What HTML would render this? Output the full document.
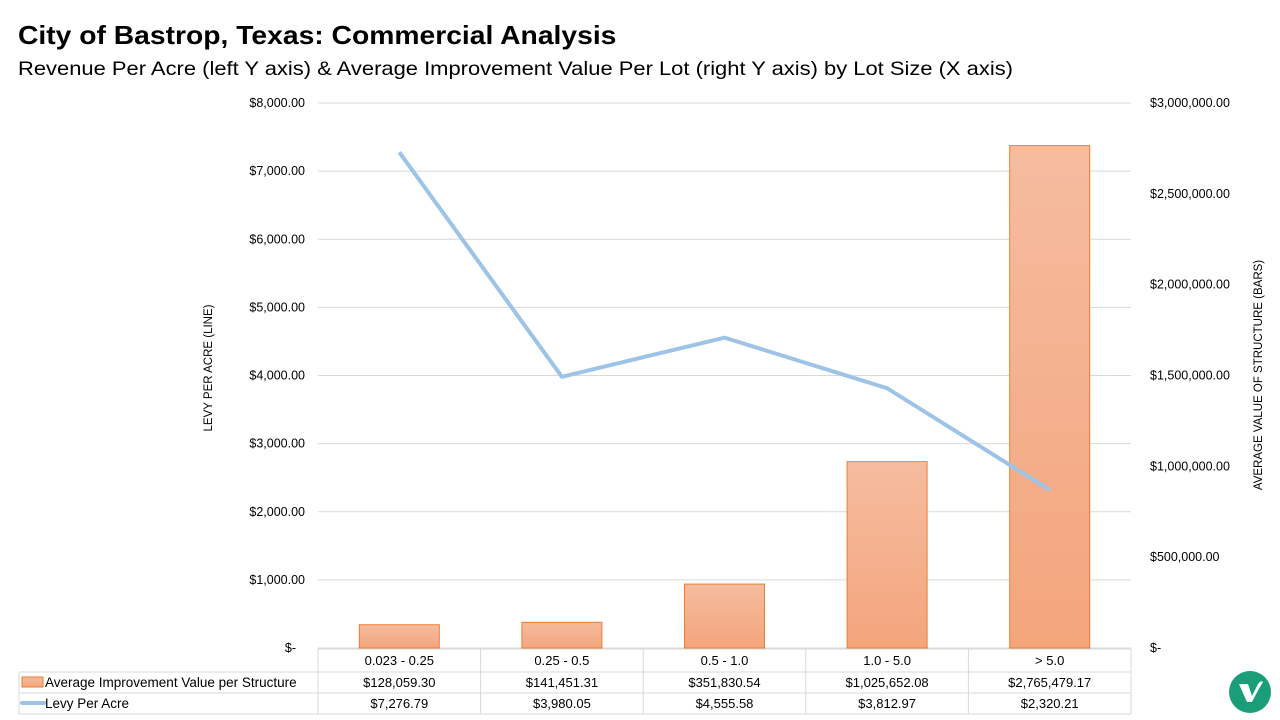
<!DOCTYPE html>
<html><head><meta charset="utf-8"><style>
body{margin:0;background:#fff;font-family:"Liberation Sans",sans-serif;}
#wrap{position:relative;width:1280px;height:720px;overflow:hidden;}
#title{position:absolute;left:18px;top:20px;font-size:26px;font-weight:bold;color:#000;transform:scaleX(1.087);transform-origin:left;white-space:nowrap;}
#sub{position:absolute;left:18px;top:58px;font-size:19.5px;color:#000;transform:scaleX(1.125);transform-origin:left;white-space:nowrap;}
svg text{font-family:"Liberation Sans",sans-serif;}
</style></head><body>
<div id="wrap">
<div id="title">City of Bastrop, Texas: Commercial Analysis</div>
<div id="sub">Revenue Per Acre (left Y axis) &amp; Average Improvement Value Per Lot (right Y axis) by Lot Size (X axis)</div>
<svg id="c" width="1280" height="720" style="position:absolute;left:0;top:0">
<defs><linearGradient id="bg" x1="0" y1="0" x2="0" y2="1"><stop offset="0" stop-color="#f5bc9f"/><stop offset="1" stop-color="#f4a57c"/></linearGradient></defs>
</svg>
<svg width="44" height="44" style="position:absolute;left:1228px;top:670px">
<circle cx="22" cy="22" r="21" fill="#1a9e7a"/>
<path d="M11 14 L20 14 L24 26 L30 14 Q33 10 35 12 Q30 20 24 32 L19 32 Z" fill="#fff"/>
</svg>
</div>
<script>
const categories=["0.023 - 0.25","0.25 - 0.5","0.5 - 1.0","1.0 - 5.0","> 5.0"];
const barValues=[128059.30,141451.31,351830.54,1025652.08,2765479.17];
const lineValues=[7276.79,3980.05,4555.58,3812.97,2320.21];
const barLabels=["$128,059.30","$141,451.31","$351,830.54","$1,025,652.08","$2,765,479.17"];
const lineLabels=["$7,276.79","$3,980.05","$4,555.58","$3,812.97","$2,320.21"];
const leftTicks=[0,1000,2000,3000,4000,5000,6000,7000,8000];
const rightTicks=[0,500000,1000000,1500000,2000000,2500000,3000000];
const NS="http://www.w3.org/2000/svg";
const svg=document.getElementById('c');
const X0=318,X1=1131,Y0=648,Y1=103;
const bw=(X1-X0)/categories.length;
const yL=v=>Y0-(v/8000)*(Y0-Y1);
const yR=v=>Y0-(v/3000000)*(Y0-Y1);
const xC=i=>X0+bw*(i+0.5);
function mk(t,a,txt){const e=document.createElementNS(NS,t);for(const k in a)e.setAttribute(k,a[k]);if(txt!=null)e.textContent=txt;svg.appendChild(e);return e;}
const fmtL=v=>v===0?"$-":"$"+v.toLocaleString("en-US",{minimumFractionDigits:2});
const fmtR=v=>v===0?"$-":"$"+v.toLocaleString("en-US",{minimumFractionDigits:2});
leftTicks.forEach(v=>{
 const g=mk('line',{x1:X0,x2:X1,y1:yL(v),y2:yL(v),stroke:'#d9d9d9','stroke-width':1});
 
 const t=mk('text',{x:v===0?296:305,y:yL(v)+4,'text-anchor':'end','font-size':12.5,fill:'#000'},fmtL(v));
 
});
rightTicks.forEach(v=>{
 const t=mk('text',{x:1150,y:yR(v)+4,'font-size':12.5,fill:'#000'},fmtR(v));
 
});
let t=mk('text',{x:0,y:0,'font-size':11.5,'text-anchor':'middle',transform:'translate(212,368) rotate(-90)'},'LEVY PER ACRE (LINE)');

t=mk('text',{x:0,y:0,'font-size':11.5,'text-anchor':'middle',transform:'translate(1262,375) rotate(-90)'},'AVERAGE VALUE OF STRUCTURE (BARS)');

barValues.forEach((v,i)=>{
 const r=mk('rect',{x:xC(i)-40,y:yR(v),width:80,height:Y0-yR(v),fill:'url(#bg)',stroke:'#ed7d31','stroke-width':1});
 
});
const p=mk('polyline',{points:lineValues.map((v,i)=>xC(i)+','+yL(v)).join(' '),fill:'none',stroke:'#9dc3e6','stroke-width':4,'stroke-linejoin':'round'});

const TL=19,R0=649,R1=672,R2=693,R3=714,tc='#d9d9d9';
[[X0,R0,X1,R0],[TL,R1,X1,R1],[TL,R2,X1,R2],[TL,R3,X1,R3],[TL,R1,TL,R3]].forEach(a=>{
 const l=mk('line',{x1:a[0],y1:a[1],x2:a[2],y2:a[3],stroke:tc});
 
});
for(let i=0;i<=categories.length;i++){
 const l=mk('line',{x1:X0+bw*i,y1:R0,x2:X0+bw*i,y2:R3,stroke:tc});
 
}
categories.forEach((c,i)=>{
 let e=mk('text',{x:xC(i),y:665,'text-anchor':'middle','font-size':13},c);
 
 e=mk('text',{x:xC(i),y:687,'text-anchor':'middle','font-size':13},barLabels[i]);
 
 e=mk('text',{x:xC(i),y:708,'text-anchor':'middle','font-size':13},lineLabels[i]);
 
});
let e=mk('rect',{x:22,y:677,width:21,height:10,fill:'url(#bg)',stroke:'#ed7d31'});

e=mk('text',{x:45,y:687,'font-size':13.5},'Average Improvement Value per Structure');

e=mk('line',{x1:22,x2:44,y1:703,y2:703,stroke:'#9dc3e6','stroke-width':4,'stroke-linecap':'round'});

e=mk('text',{x:45,y:708,'font-size':13.5},'Levy Per Acre');

</script>
</body></html>
